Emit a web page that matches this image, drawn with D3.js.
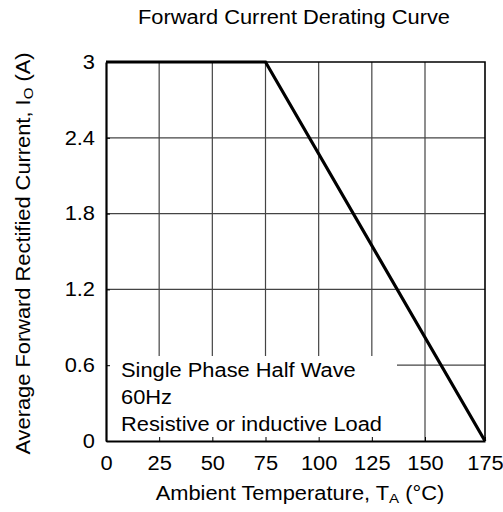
<!DOCTYPE html>
<html>
<head>
<meta charset="utf-8">
<script src="https://cdn.jsdelivr.net/npm/d3@7"></script>
<style>
  body { margin: 0; background: #fff; }
  text { font-family: "Liberation Sans", Arial, sans-serif; fill: #000; }
</style>
</head>
<body>
<div id="chart"></div>
<script>
const temps = [0, 75, 175];
const currents = [3, 3, 0];
const xTicks = [0, 25, 50, 75, 100, 125, 150, 175];
const yTicks = [0, 0.6, 1.2, 1.8, 2.4, 3];
const yTickLabels = ["0", "0.6", "1.2", "1.8", "2.4", "3"];
const noteLines = ["Single Phase Half Wave", "60Hz", "Resistive or inductive Load"];

const width = 503, height = 512;
const FONT = 19.5;
const STRETCH = 1.12;

// stretch glyphs horizontally like the original scan
function widen(sel) {
  sel.each(function () {
    const w = this.getComputedTextLength();
    d3.select(this)
      .attr("textLength", w * STRETCH)
      .attr("lengthAdjust", "spacingAndGlyphs");
  });
}

const svg = d3.select("#chart")
  .append("svg")
  .attr("width", width)
  .attr("height", height);

// the printed grid is slightly wider in the last column
const x = d3.scaleLinear().domain([0, 150, 175]).range([106, 425, 485]);
const y = d3.scaleLinear().domain([0, 3]).range([441, 62]);

// grid
svg.append("g")
  .selectAll("line")
  .data(xTicks.slice(1, -1))
  .join("line")
  .attr("x1", d => x(d)).attr("x2", d => x(d))
  .attr("y1", y(0)).attr("y2", y(3))
  .attr("stroke", "#444").attr("stroke-width", 1.2);

svg.append("g")
  .selectAll("line")
  .data(yTicks.slice(1, -1))
  .join("line")
  .attr("x1", x(0)).attr("x2", x(175))
  .attr("y1", d => y(d)).attr("y2", d => y(d))
  .attr("stroke", "#444").attr("stroke-width", 1.2);

// note box hides the grid behind it
svg.append("rect")
  .attr("x", x(0)).attr("y", 356)
  .attr("width", 397 - x(0)).attr("height", y(0) - 356)
  .attr("fill", "#fff");

// frame (top + right)
svg.append("path")
  .attr("d", `M${x(0)},${y(3)}H${x(175)}V${y(0)}`)
  .attr("fill", "none").attr("stroke", "#000").attr("stroke-width", 1.6);

// axes
const xAxis = svg.append("g")
  .attr("transform", `translate(0,${y(0)})`)
  .call(d3.axisBottom(x).tickValues(xTicks).tickSizeInner(-4).tickSizeOuter(0).tickPadding(10));
xAxis.select(".domain").attr("stroke-width", 2.2);
xAxis.selectAll(".tick text")
  .attr("font-size", FONT).attr("font-family", null).attr("fill", "#000")
  .attr("dy", "0.95em")
  .call(widen);

const yAxis = svg.append("g")
  .attr("transform", `translate(${x(0)},0)`)
  .call(d3.axisLeft(y).tickValues(yTicks).tickFormat((d, i) => yTickLabels[i])
    .tickSizeInner(-4).tickSizeOuter(0).tickPadding(11));
yAxis.select(".domain").attr("stroke-width", 2.2);
yAxis.selectAll(".tick text")
  .attr("font-size", FONT).attr("font-family", null).attr("fill", "#000")
  .call(widen);

// derating curve
const line = d3.line().x((d, i) => x(temps[i])).y(d => y(d));
svg.append("path")
  .datum(currents)
  .attr("d", line)
  .attr("fill", "none")
  .attr("stroke", "#000")
  .attr("stroke-width", 3.2);

// note text
svg.append("g")
  .selectAll("text")
  .data(noteLines)
  .join("text")
  .attr("x", 121)
  .attr("y", (d, i) => 377 + i * 27)
  .attr("font-size", FONT)
  .text(d => d)
  .call(widen);

// title
svg.append("text")
  .attr("x", 294).attr("y", 24)
  .attr("text-anchor", "middle")
  .attr("font-size", FONT)
  .text("Forward Current Derating Curve")
  .call(widen);

// x label
const xl = svg.append("text")
  .attr("x", 300).attr("y", 500)
  .attr("text-anchor", "middle")
  .attr("font-size", FONT);
xl.append("tspan").text("Ambient Temperature, T");
xl.append("tspan").attr("font-size", 13.5).attr("dy", 3).text("A");
xl.append("tspan").attr("dy", -3).text(" (°C)");
xl.call(widen);

// y label
const yl = svg.append("text")
  .attr("transform", `translate(30,${(y(0) + y(3)) / 2 + 2}) rotate(-90)`)
  .attr("text-anchor", "middle")
  .attr("font-size", FONT);
yl.append("tspan").text("Average Forward Rectified Current, I");
yl.append("tspan").attr("font-size", 13.5).attr("dy", 3).text("O");
yl.append("tspan").attr("dy", -3).text(" (A)");
yl.call(widen);
</script>
</body>
</html>
